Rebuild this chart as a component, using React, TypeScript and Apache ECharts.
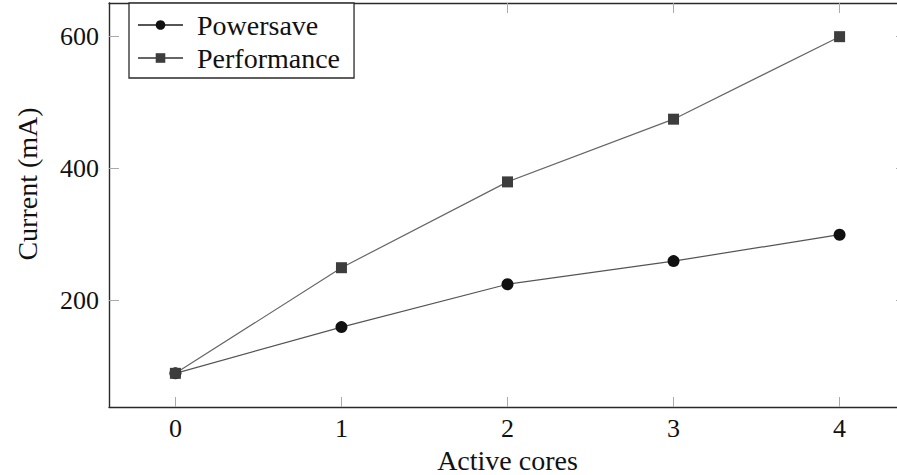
import React, { useEffect, useRef } from "react";
import * as echarts from "echarts";

const cores = [0, 1, 2, 3, 4];
const powersave = [90, 160, 225, 260, 300];
const performance = [90, 250, 380, 475, 600];
const xTicks = [0, 1, 2, 3, 4];
const yTicks = [200, 400, 600];

const FONT = "'Liberation Serif', 'DejaVu Serif', serif";

export default function App() {
  const ref = useRef<HTMLDivElement>(null);
  useEffect(() => {
    if (!ref.current) return;
    const chart = echarts.init(ref.current, undefined, { renderer: "svg" });
    const axisLine = { show: true, onZero: false, lineStyle: { color: "#2a2a2a", width: 1.4 } };
    const tick = (vals: number[]) => ({
      show: true,
      inside: true,
      length: 10,
      lineStyle: { color: "#aaa", width: 1 },
      customValues: vals,
    });
    chart.setOption({
      animation: false,
      backgroundColor: "#fff",
      grid: { left: 109, top: 3, right: 0, bottom: 68, containLabel: false, outerBoundsMode: "none" },
      legend: {
        orient: "vertical",
        left: 129,
        top: 3,
        padding: [8, 14, 6, 8],
        itemGap: 5,
        itemWidth: 45,
        itemHeight: 12,
        borderColor: "#2a2a2a",
        borderWidth: 1.3,
        backgroundColor: "#fff",
        textStyle: { fontFamily: FONT, fontSize: 28, color: "#111", padding: [0, 0, 0, 9] },
        data: ["Powersave", "Performance"],
      },
      graphic: [
        {
          type: "text",
          x: 27,
          y: 184,
          rotation: Math.PI / 2,
          style: {
            text: "Current (mA)",
            fontFamily: FONT,
            fontSize: 28,
            fill: "#111",
            textAlign: "center",
            textVerticalAlign: "middle",
          },
        },
      ],
      xAxis: [
        {
          type: "value",
          min: -0.4,
          max: 4.4,
          name: "Active cores",
          nameLocation: "middle",
          nameGap: 39,
          nameTextStyle: { fontFamily: FONT, fontSize: 28, color: "#111" },
          axisLine,
          axisTick: tick(xTicks),
          axisLabel: { customValues: xTicks, fontFamily: FONT, fontSize: 26, color: "#111", margin: 8 },
          splitLine: { show: false },
        },
        {
          type: "value",
          position: "top",
          min: -0.4,
          max: 4.4,
          axisLine,
          axisTick: tick(xTicks),
          axisLabel: { show: false },
          splitLine: { show: false },
        },
      ],
      yAxis: [
        {
          type: "value",
          min: 39,
          max: 651,
          axisLine,
          axisTick: tick(yTicks),
          axisLabel: { customValues: yTicks, fontFamily: FONT, fontSize: 26, color: "#111", margin: 10 },
          splitLine: { show: false },
        },
        {
          type: "value",
          position: "right",
          min: 39,
          max: 651,
          axisLine,
          axisTick: tick(yTicks),
          axisLabel: { show: false },
          splitLine: { show: false },
        },
      ],
      series: [
        {
          name: "Powersave",
          type: "line",
          data: cores.map((c, i) => [c, powersave[i]]),
          symbol: "circle",
          symbolSize: 12,
          lineStyle: { color: "#555", width: 1.2 },
          itemStyle: { color: "#111" },
        },
        {
          name: "Performance",
          type: "line",
          data: cores.map((c, i) => [c, performance[i]]),
          symbol: "rect",
          symbolSize: 11,
          lineStyle: { color: "#666", width: 1.2 },
          itemStyle: { color: "#3d3d3d" },
        },
      ],
    });
    return () => chart.dispose();
  }, []);
  return (
    <div
      ref={ref}
      style={{ position: "fixed", left: 0, top: 0, width: 906, height: 475, background: "#fff" }}
    />
  );
}
